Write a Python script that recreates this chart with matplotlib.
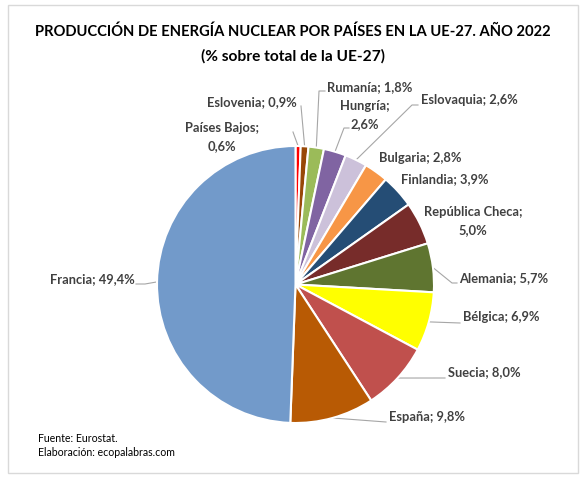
import matplotlib
matplotlib.use('Agg')
import matplotlib.pyplot as plt
import numpy as np

# data, clockwise from the top
paises = ['Países Bajos', 'Eslovenia', 'Rumanía', 'Hungría', 'Eslovaquia', 'Bulgaria', 'Finlandia',
          'República Checa', 'Alemania', 'Bélgica', 'Suecia', 'España', 'Francia']
valores = [0.6, 0.9, 1.8, 2.6, 2.6, 2.8, 3.9, 5.0, 5.7, 6.9, 8.0, 9.8, 49.4]
colores = ['#ff0000', '#984807', '#9bbb59', '#8064a2', '#ccc1da', '#f79646', '#254d75',
           '#772c2a', '#5f7530', '#ffff00', '#c0504d', '#b85a04', '#729aca']
etiquetas = ['Países Bajos;\n0,6%', 'Eslovenia; 0,9%', 'Rumanía; 1,8%', 'Hungría;\n2,6%', 'Eslovaquia; 2,6%',
             'Bulgaria; 2,8%', 'Finlandia; 3,9%', 'República Checa;\n5,0%', 'Alemania; 5,7%', 'Bélgica; 6,9%',
             'Suecia; 8,0%', 'España; 9,8%', 'Francia; 49,4%']
# label centre in image pixels
pos_etiquetas = [(222, 137), (252, 102), (370, 87), (365, 115), (469, 100), (420, 158), (445, 179),
                 (473, 221), (504, 278), (501, 317), (484, 372), (427, 417), (92, 279)]
# end of each leader line, image pixels, last point next to the label
codos = [[(293, 132)], [(301, 106)], [(319, 91), (325, 91)], [(344, 128), (349, 128)], [(412, 105), (418, 105)],
         [], [], [], [(452, 283), (457, 283)], [(460, 323)],
         [(445, 378)], [(386, 422)], [(145, 284), (136, 284)]]

plt.rcParams['font.family'] = ['Lato', 'DejaVu Sans']

W, H = 585, 484
fig = plt.figure(figsize=(W / 100, H / 100), dpi=100)
ax = fig.add_axes([0, 0, 1, 1])
ax.set_xlim(0, W)
ax.set_ylim(H, 0)
ax.axis('off')
ax.add_patch(plt.Rectangle((7.5, 4.5), 570.5, 468.5, fill=False, edgecolor='#d9d9d9', linewidth=1))

cx, cy, r = 295.5, 284.5, 138.5
pie_ax = fig.add_axes([(cx - r) / W, 1 - (cy + r) / H, 2 * r / W, 2 * r / H])
pie_ax.pie(valores, colors=colores, startangle=90, counterclock=False, radius=1,
           wedgeprops={'edgecolor': 'white', 'linewidth': 1.5})
pie_ax.set_xlim(-1, 1)
pie_ax.set_ylim(-1, 1)

ax.text(293, 31.5, 'PRODUCCIÓN DE ENERGÍA NUCLEAR POR PAÍSES EN LA UE-27. AÑO 2022',
        ha='center', va='center', fontsize=10.6, fontweight='bold', color='black')
ax.text(293, 56.5, '(% sobre total de la UE-27)', ha='center', va='center', fontsize=11.2,
        fontweight='bold', color='black')

# leader lines start on the rim at the middle of each slice
acum = np.cumsum(valores)
medios = (acum - np.array(valores) / 2) / acum[-1] * 2 * np.pi
for ang, codo in zip(medios, codos):
    if not codo:
        continue
    xs = [cx + r * np.sin(ang)] + [p[0] for p in codo]
    ys = [cy - r * np.cos(ang)] + [p[1] for p in codo]
    ax.plot(xs, ys, color='#a6a6a6', linewidth=0.8, zorder=1)

for txt, (x, y) in zip(etiquetas, pos_etiquetas):
    ax.text(x, y, txt, ha='center', va='center', fontsize=9.3, fontweight='bold',
            color='#404040', linespacing=1.55)

ax.text(37.5, 438, 'Fuente: Eurostat.', ha='left', va='center', fontsize=7.6, color='black')
ax.text(37.5, 452.5, 'Elaboración: ecopalabras.com', ha='left', va='center', fontsize=7.6, color='black')

fig.savefig('out.png', dpi=100)
